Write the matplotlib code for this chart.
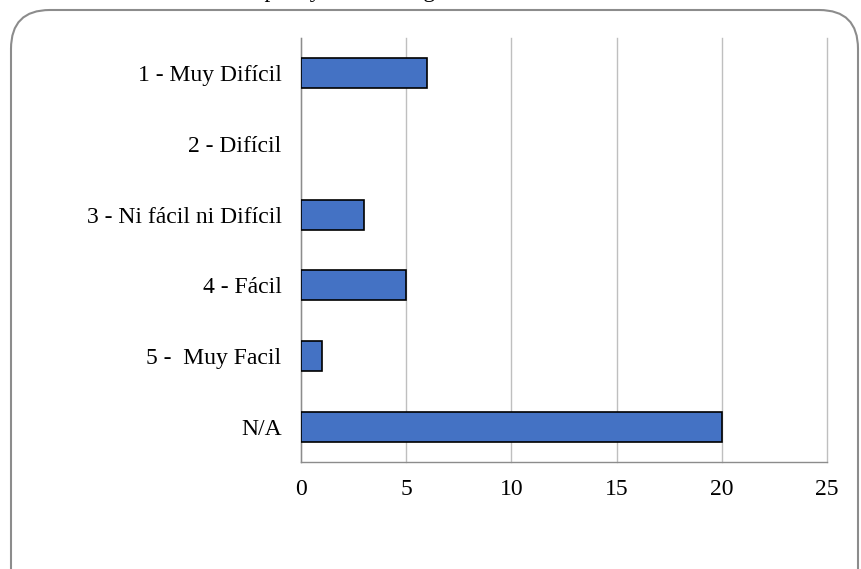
import numpy as np
import matplotlib
matplotlib.use('Agg')
import matplotlib.pyplot as plt
from matplotlib.patches import FancyBboxPatch

plt.rcParams['font.family'] = ['Liberation Serif', 'DejaVu Serif']

#data
categories = ['1 - Muy Difícil', '2 - Difícil', '3 - Ni fácil ni Difícil',
              '4 - Fácil', '5 -  Muy Facil', 'N/A']
values = [6, 0, 3, 5, 1, 20]
xticks = [0, 5, 10, 15, 20, 25]

W, H = 862, 569
fig = plt.figure(figsize=(W/100., H/100.), dpi=100)
ax = fig.add_axes([301./W, 1-462./H, (827-301.)/W, (462-38.)/H])

ypos = np.arange(len(categories))
edges = ['black' if v > 0 else 'none' for v in values]
ax.barh(ypos, values, height=0.42, color='#4472C4', edgecolor=edges,
        linewidth=1.2, zorder=3)

ax.set_yticks(ypos)
ax.set_yticklabels(categories, fontsize=17)
ax.set_ylim(len(categories)-0.5, -0.5)
ax.set_xlim(0, 25)
ax.set_xticks(xticks)
ax.set_xticklabels([str(t) for t in xticks], fontsize=17)
ax.tick_params(axis='x', length=0, pad=12)
ax.tick_params(axis='y', length=0, pad=14)
ax.xaxis.grid(True, color='#BFBFBF', linewidth=1.0, zorder=0)
for gl in ax.get_xgridlines():
    gl.set_clip_on(False)
for s in ['top', 'right']:
    ax.spines[s].set_visible(False)
for s in ['left', 'bottom']:
    ax.spines[s].set_color('#8C8C8C')
    ax.spines[s].set_linewidth(1.0)

#rounded frame
frame = FancyBboxPatch((11./W, -0.1), (847.)/W, 1.1-10./H,
                       boxstyle='round,pad=0,rounding_size=0.045',
                       transform=fig.transFigure, facecolor='none',
                       edgecolor='#8C8C8C', linewidth=1.5, clip_on=False,
                       mutation_aspect=W/float(H))
fig.patches.append(frame)

#title cut off at the top of the picture
fig.text(145./W, 1.0+2.5/H, 'Sitio de compras y de la navegación', ha='left',
         va='baseline', fontsize=17)

plt.savefig('out.png', dpi=100)
